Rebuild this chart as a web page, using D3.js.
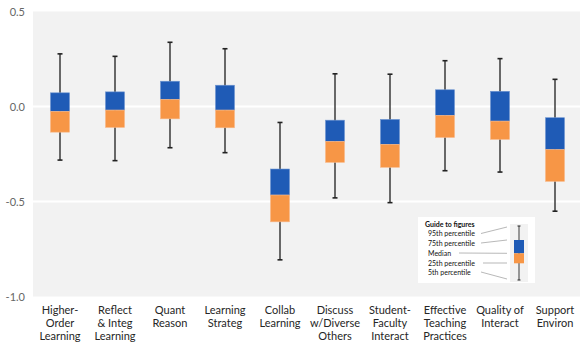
<!DOCTYPE html>
<html>
<head>
<meta charset="utf-8">
<script src="https://cdn.jsdelivr.net/npm/d3@7"></script>
<style>
  html, body { margin: 0; padding: 0; background: #fff; }
  svg { display: block; }
</style>
</head>
<body>
<svg id="chart" width="580" height="356"></svg>
<script>
// Benchmark distributions: percentiles per engagement indicator
const categories = [
  ["Higher-", "Order", "Learning"],
  ["Reflect", "& Integ", "Learning"],
  ["Quant", "Reason"],
  ["Learning", "Strateg"],
  ["Collab", "Learning"],
  ["Discuss", "w/Diverse", "Others"],
  ["Student-", "Faculty", "Interact"],
  ["Effective", "Teaching", "Practices"],
  ["Quality of", "Interact"],
  ["Support", "Environ"]
];
const p95    = [0.277, 0.264, 0.338, 0.304, -0.084, 0.172, 0.170, 0.241, 0.252, 0.143];
const p75    = [0.072, 0.077, 0.133, 0.112, -0.329, -0.072, -0.068, 0.088, 0.080, -0.059];
const median = [-0.026, -0.019, 0.037, -0.019, -0.466, -0.184, -0.199, -0.047, -0.077, -0.227];
const p25    = [-0.135, -0.110, -0.065, -0.112, -0.607, -0.294, -0.320, -0.163, -0.173, -0.394];
const p5     = [-0.282, -0.285, -0.217, -0.243, -0.807, -0.481, -0.506, -0.338, -0.345, -0.551];
const yTicks = [0.5, 0.0, -0.5, -1.0];
const legendLabels = ["95th percentile", "75th percentile", "Median", "25th percentile", "5th percentile"];

const BLUE = "#1f5bb6", ORANGE = "#f79646", WHISKER = "#3a3a3a";
const FONT = "Lato, 'Open Sans', sans-serif";

const svg = d3.select("#chart");
const plot = { left: 33, right: 580, top: 11.5, bottom: 296.5 };

const idx = categories.map((_, i) => i);
const x = d3.scaleBand().domain(idx).range([32.5, 582.5]).padding(0);
const y = d3.scaleLinear().domain([-1, 0.5]).range([plot.bottom, plot.top]);
const boxW = 19, capW = 5;

// plot background
svg.append("rect")
  .attr("x", plot.left).attr("y", plot.top)
  .attr("width", plot.right - plot.left).attr("height", plot.bottom - plot.top)
  .attr("fill", "#f2f2f2");

// gridlines
svg.append("g").selectAll("line")
  .data(yTicks.filter(v => v > -1 && v < 0.5))
  .join("line")
  .attr("x1", plot.left).attr("x2", plot.right)
  .attr("y1", d => y(d)).attr("y2", d => y(d))
  .attr("stroke", "#fff").attr("stroke-width", 2);

// y axis labels
const yAxis = d3.axisLeft(y).tickValues(yTicks).tickSize(0).tickPadding(8)
  .tickFormat(d => d.toFixed(1));
const ya = svg.append("g").attr("transform", `translate(${plot.left},0)`).call(yAxis);
ya.select(".domain").remove();
ya.selectAll("text").attr("fill", "#666").style("font-family", FONT).style("font-size", "11px");

// boxes
const g = svg.append("g");
idx.forEach(i => {
  const cx = x(i) + x.bandwidth() / 2;
  // whisker
  g.append("line").attr("x1", cx).attr("x2", cx)
    .attr("y1", y(p95[i])).attr("y2", y(p5[i]))
    .attr("stroke", WHISKER).attr("stroke-width", 1.5);
  [p95[i], p5[i]].forEach(v => {
    g.append("line").attr("x1", cx - capW / 2).attr("x2", cx + capW / 2)
      .attr("y1", y(v)).attr("y2", y(v))
      .attr("stroke", "#222").attr("stroke-width", 1.6);
  });
  // upper box (median to 75th)
  g.append("rect").attr("x", cx - boxW / 2).attr("width", boxW)
    .attr("y", y(p75[i])).attr("height", y(median[i]) - y(p75[i]))
    .attr("fill", BLUE).attr("stroke", "#6f95d0").attr("stroke-width", 0.6);
  // lower box (25th to median)
  g.append("rect").attr("x", cx - boxW / 2).attr("width", boxW)
    .attr("y", y(median[i])).attr("height", y(p25[i]) - y(median[i]))
    .attr("fill", ORANGE).attr("stroke", "#f8b888").attr("stroke-width", 0.6);
});

// category labels
const xl = svg.append("g");
idx.forEach(i => {
  const cx = x(i) + x.bandwidth() / 2;
  const t = xl.append("text").attr("text-anchor", "middle")
    .attr("fill", "#262626").style("font-family", FONT).style("font-size", "11px");
  categories[i].forEach((line, k) => {
    t.append("tspan").attr("x", cx).attr("y", 314 + k * 12.8).text(line);
  });
});

// guide to figures
const lg = svg.append("g");
lg.append("rect").attr("x", 418).attr("y", 217).attr("width", 117).attr("height", 66).attr("fill", "#fff");
lg.append("text").attr("x", 425).attr("y", 226.5).text("Guide to figures")
  .style("font-family", FONT).style("font-size", "7px").style("font-weight", "bold").attr("fill", "#111");
const ly = [236, 245.5, 255.5, 265.5, 274.5];
const textEnd = [481, 481, 459, 483, 481];
const target = [227, 240, 253.3, 263, 279];
legendLabels.forEach((s, k) => {
  lg.append("text").attr("x", 428).attr("y", ly[k]).text(s)
    .style("font-family", FONT).style("font-size", "7px").attr("fill", "#111");
  lg.append("line").attr("x1", textEnd[k]).attr("x2", 507)
    .attr("y1", ly[k] - 2.5).attr("y2", target[k])
    .attr("stroke", "#9a9a9a").attr("stroke-width", 0.7);
});
lg.append("rect").attr("x", 510).attr("y", 224).attr("width", 18).attr("height", 58).attr("fill", "#f2f2f2");
lg.append("line").attr("x1", 519).attr("x2", 519).attr("y1", 226).attr("y2", 280)
  .attr("stroke", WHISKER).attr("stroke-width", 1);
[226, 280].forEach(v => lg.append("line").attr("x1", 517.5).attr("x2", 520.5).attr("y1", v).attr("y2", v)
  .attr("stroke", "#222").attr("stroke-width", 1));
lg.append("rect").attr("x", 514).attr("y", 240).attr("width", 10).attr("height", 13.3).attr("fill", BLUE);
lg.append("rect").attr("x", 514).attr("y", 253.3).attr("width", 10).attr("height", 10).attr("fill", ORANGE);
</script>
</body>
</html>
